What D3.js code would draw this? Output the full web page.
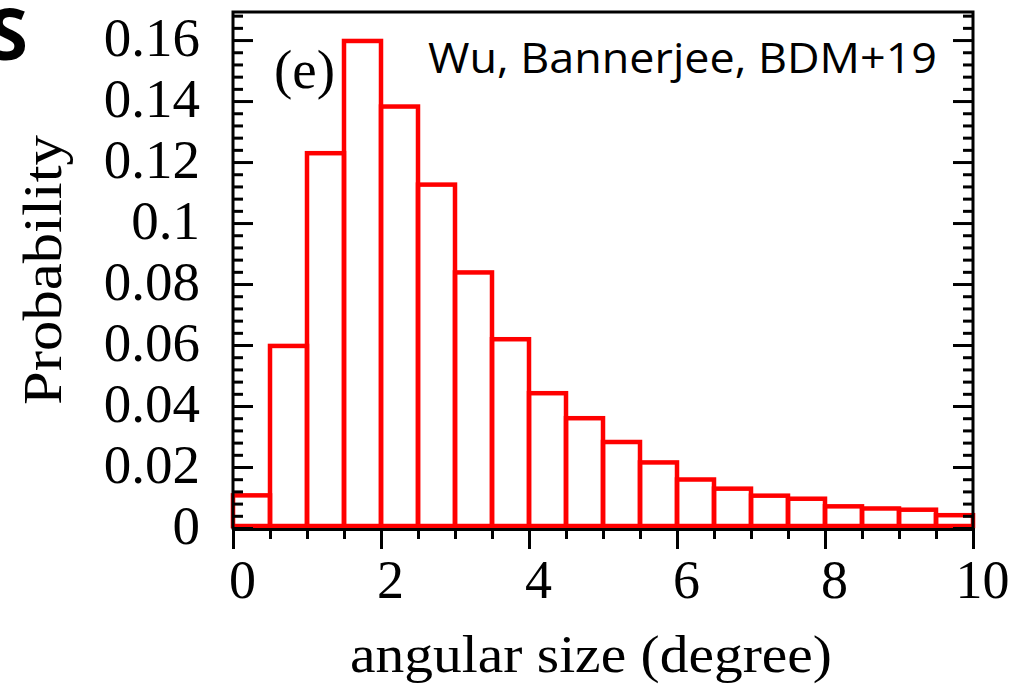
<!DOCTYPE html>
<html>
<head>
<meta charset="utf-8">
<script src="https://cdn.jsdelivr.net/npm/d3@7"></script>
<style>
  html, body { margin: 0; padding: 0; background: #fff; }
  svg { display: block; }
</style>
</head>
<body>
<svg id="chart" width="1028" height="686"></svg>
<script>
// ---- data ----
const binStarts = [0, 0.5, 1, 1.5, 2, 2.5, 3, 3.5, 4, 4.5, 5, 5.5, 6, 6.5, 7, 7.5, 8, 8.5, 9, 9.5];
const binWidth = 0.5;
const probability = [0.0107, 0.0597, 0.1229, 0.1597, 0.1382, 0.1126, 0.0838, 0.0619, 0.0442, 0.0360,
                     0.0282, 0.0215, 0.0159, 0.0129, 0.0106, 0.0096, 0.0071, 0.0064, 0.0060, 0.0042];
const xMajorTicks = [0, 2, 4, 6, 8, 10];
const xTickLabels = ["0", "2", "4", "6", "8", "10"];
const yMajorTicks = [0, 0.02, 0.04, 0.06, 0.08, 0.1, 0.12, 0.14, 0.16];
const yTickLabels = ["0", "0.02", "0.04", "0.06", "0.08", "0.1", "0.12", "0.14", "0.16"];
const xLabel = "angular size (degree)";
const yLabel = "Probability";
const panelTag = "(e)";
const sourceNote = "Wu, Bannerjee, BDM+19";
const cutTitle = "S";

// ---- layout ----
const svg = d3.select("#chart");
const pLeft = 233, pRight = 973, pTop = 12, pBottom = 528;
const x = d3.scaleLinear().domain([0, 10]).range([pLeft, pRight]);
const y = d3.scaleLinear().domain([0, 0.1692]).range([pBottom, pTop]);
const serif = "'Liberation Serif', 'Times New Roman', serif";

const xMinor = d3.range(0, 10.0001, 0.5).filter(v => Math.abs(v / 2 - Math.round(v / 2)) > 1e-9);
const yMinor = d3.range(0.004, 0.1692, 0.004).filter(v => Math.abs(v / 0.02 - Math.round(v / 0.02)) > 1e-6);

// ---- bars ----
svg.append("g").selectAll("rect")
  .data(binStarts)
  .join("rect")
  .attr("x", (d) => x(d))
  .attr("width", (d) => x(d + binWidth) - x(d))
  .attr("y", (d, i) => y(probability[i]))
  .attr("height", (d, i) => y(0) - y(probability[i]) - 2)
  .attr("fill", "none")
  .attr("stroke", "#ff0000")
  .attr("stroke-width", 4.5);

// ---- axes ----
function styleAxis(g) {
  g.select(".domain").remove();
  g.selectAll(".tick line").attr("stroke", "#000").attr("stroke-width", 3);
}

// left major (inward ticks, labels)
svg.append("g")
  .attr("transform", `translate(${pLeft},0)`)
  .call(d3.axisLeft(y).tickValues(yMajorTicks).tickSize(-20).tickPadding(33)
        .tickFormat((d, i) => yTickLabels[i]))
  .call(styleAxis)
  .call(g => g.selectAll("text")
        .attr("font-family", serif).attr("font-size", 55).attr("fill", "#000")
        .attr("dy", "0.28em"));

// left minor
svg.append("g")
  .attr("transform", `translate(${pLeft},0)`)
  .call(d3.axisLeft(y).tickValues(yMinor).tickSize(-10).tickFormat(""))
  .call(styleAxis);

// right major/minor (inward)
svg.append("g")
  .attr("transform", `translate(${pRight},0)`)
  .call(d3.axisRight(y).tickValues(yMajorTicks).tickSize(-20).tickFormat(""))
  .call(styleAxis);
svg.append("g")
  .attr("transform", `translate(${pRight},0)`)
  .call(d3.axisRight(y).tickValues(yMinor).tickSize(-10).tickFormat(""))
  .call(styleAxis);

// bottom major (outward), labels
svg.append("g")
  .attr("transform", `translate(0,${pBottom})`)
  .call(d3.axisBottom(x).tickValues(xMajorTicks).tickSize(21).tickPadding(10)
        .tickFormat((d, i) => xTickLabels[i]))
  .call(styleAxis)
  .call(g => g.selectAll("text")
        .attr("font-family", serif).attr("font-size", 54).attr("fill", "#000")
        .attr("dx", 9).attr("dy", "0.72em"));

// bottom minor
svg.append("g")
  .attr("transform", `translate(0,${pBottom})`)
  .call(d3.axisBottom(x).tickValues(xMinor).tickSize(11).tickFormat(""))
  .call(styleAxis);

// ---- frame ----
svg.append("path")
  .attr("d", `M${pLeft},${pBottom + 1.5}V${pTop}H${pRight}V${pBottom + 1.5}H${pLeft}`)
  .attr("fill", "none").attr("stroke", "#000").attr("stroke-width", 3);

// ---- axis titles ----
svg.append("text")
  .attr("x", 591).attr("y", 672)
  .attr("text-anchor", "middle")
  .attr("font-family", serif).attr("font-size", 53)
  .attr("textLength", 482).attr("lengthAdjust", "spacingAndGlyphs")
  .text(xLabel);

svg.append("text")
  .attr("transform", "translate(61,270) rotate(-90)")
  .attr("text-anchor", "middle")
  .attr("font-family", serif).attr("font-size", 55)
  .attr("textLength", 270).attr("lengthAdjust", "spacingAndGlyphs")
  .text(yLabel);

// ---- annotations ----
svg.append("text")
  .attr("x", 274).attr("y", 88)
  .attr("font-family", serif).attr("font-size", 55)
  .text(panelTag);

svg.append("text")
  .attr("x", 428).attr("y", 73)
  .attr("font-family", "'Open Sans', 'Noto Sans', sans-serif").attr("font-size", 42)
  .attr("textLength", 509).attr("lengthAdjust", "spacingAndGlyphs")
  .text(sourceNote);

svg.append("text")
  .attr("x", 28).attr("y", 60)
  .attr("text-anchor", "end")
  .attr("font-family", "'Open Sans', 'Noto Sans', sans-serif").attr("font-weight", "bold")
  .attr("font-size", 72)
  .text(cutTitle);
</script>
</body>
</html>
